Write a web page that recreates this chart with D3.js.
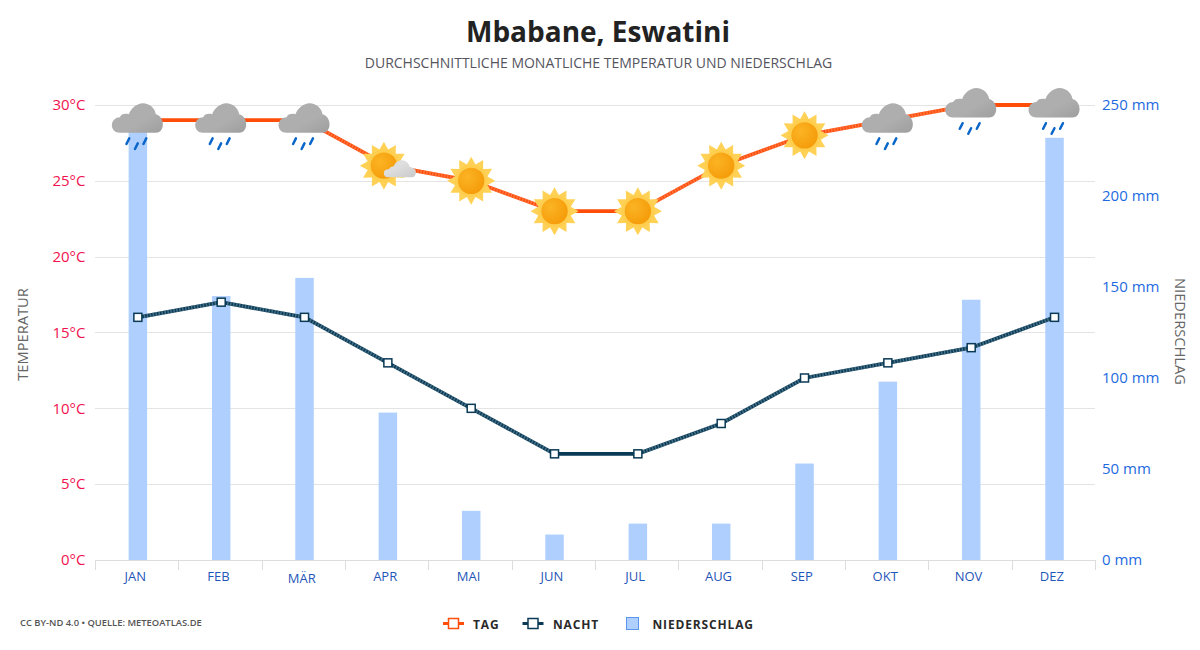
<!DOCTYPE html>
<html><head><meta charset="utf-8">
<script src="https://cdn.jsdelivr.net/npm/d3@7"></script>
<style>html,body{margin:0;padding:0;background:#fff}svg{display:block}text{font-family:"Open Sans",sans-serif}</style>
</head><body><svg id="c" width="1200" height="650"></svg>
<script>
const months=["JAN","FEB","MÄR","APR","MAI","JUN","JUL","AUG","SEP","OKT","NOV","DEZ"];
const dayTemp=[29,29,29,26,25,23,23,26,28,29,30,30];
const nightTemp=[16,17,16,13,10,7,7,9,12,13,14,16];
const precip=[236,145,155,81,27,14,20,20,53,98,143,232];
const weather=["rain","rain","rain","partly","sun","sun","sun","sun","sun","rain","rain","rain"];
const tempTicks=[0,5,10,15,20,25,30];
const rainTicks=[0,50,100,150,200,250];
const seriesNames=["TAG","NACHT","NIEDERSCHLAG"];

const svg=d3.select("#c");
const xAxisScale=d3.scaleBand().domain(months).range([95,1095]);
const x=d3.scaleBand().domain(months).range([96.2,1096.2]);
const yT=d3.scaleLinear().domain([0,30]).range([560,105]);
const yR=d3.scaleLinear().domain([0,250]).range([560,105]);
const cx=m=>x(m)+x.bandwidth()/2;
const defs=svg.append("defs");
const g1=defs.append("radialGradient").attr("id","sunG").attr("cx","35%").attr("cy","35%").attr("r","75%");
g1.append("stop").attr("offset","0").attr("stop-color","#FBB424");
g1.append("stop").attr("offset","1").attr("stop-color","#F59A08");
const g2=defs.append("linearGradient").attr("id","cloudG").attr("x1",0).attr("y1",0).attr("x2",1).attr("y2",1);
g2.append("stop").attr("offset","0.6").attr("stop-color","#AEAEAE");
g2.append("stop").attr("offset","1").attr("stop-color","#9E9E9E");
const g3=defs.append("linearGradient").attr("id","smallG").attr("x1",0).attr("y1",0).attr("x2",1).attr("y2",1);
g3.append("stop").attr("offset","0.4").attr("stop-color","#DEDEDE");
g3.append("stop").attr("offset","1").attr("stop-color","#C9C9C9");

// text
svg.append("text").attr("x",598).attr("y",42).attr("text-anchor","middle").attr("font-size",28).attr("font-weight",700).attr("fill","#222").text("Mbabane, Eswatini");
svg.append("text").attr("x",598.5).attr("y",68).attr("text-anchor","middle").attr("font-size",14).attr("fill","#555560").text("DURCHSCHNITTLICHE MONATLICHE TEMPERATUR UND NIEDERSCHLAG");

// grid
svg.append("g").selectAll("line").data(tempTicks.slice(1)).join("line")
 .attr("x1",95).attr("x2",1095).attr("y1",d=>Math.round(yT(d)-.01)+.5).attr("y2",d=>Math.round(yT(d)-.01)+.5).attr("stroke","#e4e4e4");

// bars
svg.append("g").selectAll("rect").data(precip).join("rect")
 .attr("x",(d,i)=>cx(months[i])-9.25).attr("width",18.5).attr("y",d=>yR(d)).attr("height",d=>560-yR(d)).attr("fill","#AFCFFF");

// axes
const ax=svg.append("g").attr("transform","translate(-1.5,560)").call(d3.axisBottom(xAxisScale).tickSize(0).tickPadding(12));
ax.select(".domain").remove();
ax.selectAll("text").attr("font-size",13).attr("font-family","'Open Sans',sans-serif").attr("fill","#1F56B8").attr("dy",d=>/Ä/.test(d)?"0.86em":"0.71em");
svg.append("line").attr("x1",95).attr("x2",1095).attr("y1",560.5).attr("y2",560.5).attr("stroke","#ddd");
svg.append("g").selectAll("line").data(months.concat(["end"])).join("line")
 .attr("x1",(d,i)=>Math.round(95+i*x.bandwidth())+.5).attr("x2",(d,i)=>Math.round(95+i*x.bandwidth())+.5)
 .attr("y1",560).attr("y2",570).attr("stroke","#ddd");

const al=d3.axisLeft(yT).tickValues(tempTicks).tickSize(0).tickPadding(0).tickFormat(d=>d+"°C");
const gl=svg.append("g").attr("transform","translate(85.5,0)").call(al);
gl.select(".domain").remove();
gl.selectAll("text").attr("font-size",15).attr("font-family","'Open Sans',sans-serif").attr("fill","#F2124F");
const ar=d3.axisRight(yR).tickValues(rainTicks).tickSize(0).tickPadding(0).tickFormat(d=>d+" mm");
const gr=svg.append("g").attr("transform","translate(1102,0)").call(ar);
gr.select(".domain").remove();
gr.selectAll("text").attr("font-size",15).attr("font-family","'Open Sans',sans-serif").attr("fill","#1E6AE0");

svg.append("text").attr("transform","translate(28,334.5) rotate(-90)").attr("text-anchor","middle").attr("font-size",14.7).attr("fill","#666").text("TEMPERATUR");
svg.append("text").attr("transform","translate(1175,331.5) rotate(90)").attr("text-anchor","middle").attr("font-size",14.7).attr("fill","#666").text("NIEDERSCHLAG");

// lines
const line=d3.line().x((d,i)=>cx(months[i]));
function drawSeries(vals,col,light){
  const gen=line.y(d=>yT(d));
  const g=svg.append("g");
  g.append("path").attr("d",gen(vals)).attr("fill","none").attr("stroke",col).attr("stroke-width",3.8);
  vals.slice(1).forEach((v,i)=>{
    if(v===vals[i])return;
    g.append("line").attr("x1",cx(months[i])).attr("y1",yT(vals[i])).attr("x2",cx(months[i+1])).attr("y2",yT(v))
     .attr("stroke",light).attr("stroke-width",3.8).attr("stroke-opacity",.5).attr("stroke-dasharray","1.5 1.5");
  });
  g.selectAll("rect").data(vals).join("rect").attr("x",(d,i)=>cx(months[i])-4).attr("y",d=>yT(d)-4).attr("width",8).attr("height",8)
   .attr("fill","#fff").attr("stroke",col).attr("stroke-width",1.5);
}
drawSeries(dayTemp,"#FF4D0A","#FF9A70");
drawSeries(nightTemp,"#0A3A55","#7FA3B5");

// icons
function sun(g,r){
  const pts=[];
  for(let i=0;i<24;i++){const a=i*Math.PI/12-Math.PI/2,R=i%2?r*0.7:r;pts.push([R*Math.cos(a),R*Math.sin(a)]);}
  g.append("polygon").attr("points",pts.map(p=>p.join(",")).join(" ")).attr("fill","#FFD257");
  g.append("circle").attr("r",r*.68).attr("fill","#FFCE4E");
  g.append("circle").attr("r",r*.55).attr("fill","url(#sunG)");
}
const cloudPath="M-18,12.5 C-23,12.5 -26,9 -26,5 C-26,0 -22,-3 -18,-3 C-17,-6 -13,-7 -9,-6 C-7,-12 -1,-17 5,-17 C12,-17 17,-12 18,-6 C22,-5 25,-1 25,4 C25,9 22,12.5 18,12.5 Z";
const smallCloud="M-12,7 C-15,7 -16,5 -16,3 C-16,0 -14,-1 -11,-1 C-10,-3 -8,-4 -6,-4 C-5,-8 -1,-10 2,-10 C6,-10 9,-7 10,-3 C13,-3 16,-1 16,2 C16,5 14,7 12,7 Z";
weather.forEach((w,i)=>{
  const g=svg.append("g").attr("transform",`translate(${cx(months[i])},${yT(dayTemp[i])})`);
  if(w==="sun") sun(g,24);
  else if(w==="partly"){
    sun(g.append("g").attr("transform","translate(-4,0)"),24);
    g.append("path").attr("d",smallCloud).attr("transform","translate(12,4.7)").attr("fill","url(#smallG)");
  } else {
    g.append("path").attr("d",cloudPath).attr("fill","url(#cloudG)");
    g.selectAll("line.r").data([[-10,21],[-1.5,26],[7,21]]).join("line").attr("class","r")
      .attr("x1",d=>d[0]-1.4).attr("y1",d=>d[1]+2.8).attr("x2",d=>d[0]+1.4).attr("y2",d=>d[1]-2.8)
      .attr("stroke","#0A66C8").attr("stroke-width",2.5).attr("stroke-linecap","round");
  }
});

// footer + legend
svg.append("text").attr("x",20).attr("y",626).attr("font-size",9.4).attr("font-weight",600).attr("fill","#555").text("CC BY-ND 4.0 • QUELLE: METEOATLAS.DE");
const lg=svg.append("g");
function legLine(xc,col){
  lg.append("line").attr("x1",xc-10.5).attr("x2",xc+10.5).attr("y1",623.5).attr("y2",623.5).attr("stroke",col).attr("stroke-width",3);
  lg.append("rect").attr("x",xc-5).attr("y",618.5).attr("width",10).attr("height",10).attr("fill","#fff").attr("stroke",col).attr("stroke-width",1.5);
}
legLine(453.5,"#FF4D0A");legLine(533,"#0A3A55");
lg.append("rect").attr("x",626.5).attr("y",617.5).attr("width",12).attr("height",12).attr("fill","#AFCFFF").attr("stroke","#5A96F0").attr("stroke-width",1);
[[473,0],[553,1],[652.5,2]].forEach(([xp,k])=>lg.append("text").attr("x",xp).attr("y",629).attr("font-size",12).attr("font-weight",700).attr("letter-spacing",".85px").attr("fill","#2a2a2a").text(seriesNames[k]));
</script></body></html>
